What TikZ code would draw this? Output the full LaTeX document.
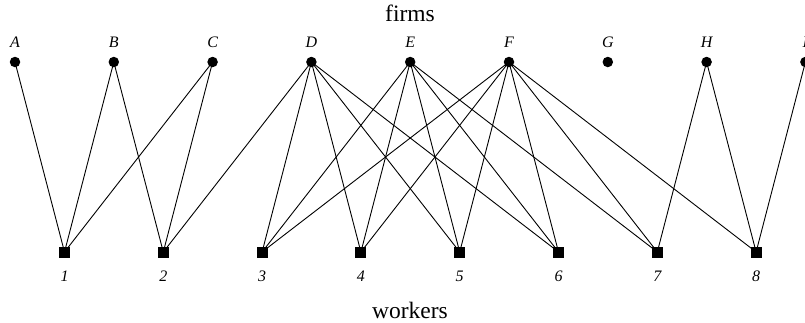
\documentclass[tikz,border=0pt]{standalone}
\usepackage{fontspec}
\setmainfont{Liberation Serif}
\begin{document}
\begin{tikzpicture}[x=1pt,y=-1pt,
  firm/.style={circle,fill=black,inner sep=0pt,minimum size=10.5pt},
  worker/.style={rectangle,fill=black,inner sep=0pt,minimum size=11pt},
  lab/.style={inner sep=0pt,anchor=base,font=\fontsize{16}{16}\selectfont\itshape},
  title/.style={inner sep=0pt,anchor=base,font=\fontsize{23.5}{24}\selectfont},
  edge/.style={line width=0.9pt}]
\useasboundingbox (0,0) rectangle (805,322);
\foreach \n [count=\i from 0] in {A,B,C,D,E,F,G,H,I} {
  \node[firm] (\n) at ({15+98.8*\i},62) {};
  \node[lab] (l\n) at ({15+98.8*\i},47.5) {\n};
}
\foreach \i in {1,...,8} {
  \node[worker] (w\i) at ({64.5+98.8*(\i-1)},252) {};
  \node[lab] (lw\i) at ({64.5+98.8*(\i-1)},281.5) {\i};
}
\node[title] (firms) at (410,21.5) {firms};
\node[title] (workers) at (410,318) {workers};
\foreach \f/\w in {A/1,B/1,B/2,C/1,C/2,D/2,D/3,D/4,D/5,D/6,E/3,E/4,E/5,E/6,E/7,F/3,F/4,F/5,F/6,F/7,F/8,H/7,H/8,I/8}
  \draw[edge] (\f.center) -- (w\w.center);
\end{tikzpicture}
\end{document}
